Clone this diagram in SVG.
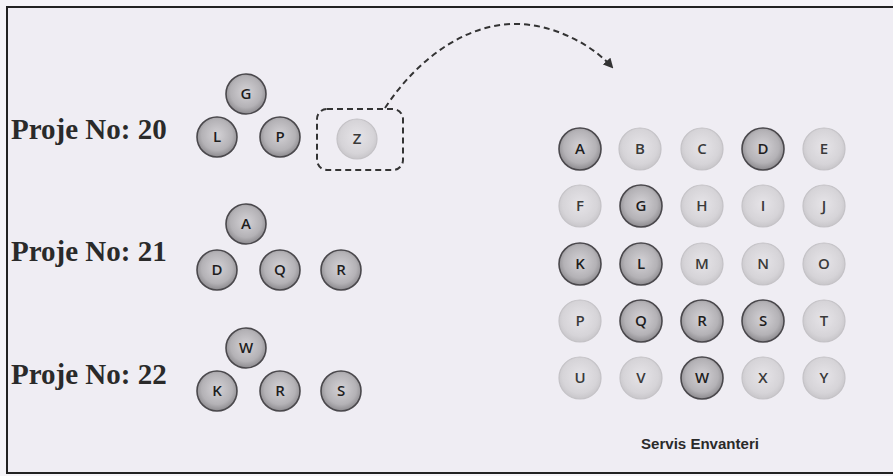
<svg xmlns="http://www.w3.org/2000/svg" width="893" height="476" viewBox="0 0 893 476">
<defs>
<radialGradient id="gDark" cx="50%" cy="45%" r="55%">
<stop offset="0" stop-color="#d4d2d6"/>
<stop offset="0.7" stop-color="#b4b2b6"/>
<stop offset="1" stop-color="#8c8a8e"/>
</radialGradient>
<radialGradient id="gLight" cx="50%" cy="45%" r="55%">
<stop offset="0" stop-color="#e6e4e8"/>
<stop offset="0.75" stop-color="#d6d4d8"/>
<stop offset="1" stop-color="#c8c6ca"/>
</radialGradient>
<marker id="arr" viewBox="0 0 10 10" refX="8" refY="5" markerWidth="5" markerHeight="5" orient="auto">
<path d="M0,0 L10,5 L0,10 z" fill="#333"/>
</marker>
</defs>
<style>
.dark circle{fill:url(#gDark);stroke:#4a484c;stroke-width:1.6}
.light circle{fill:url(#gLight);stroke:#c4c2c6;stroke-width:1.2}
.node text{font-family:"Open Sans","DejaVu Sans",sans-serif;font-size:15px;font-weight:600;text-anchor:middle;fill:#1e1e1e}
.light text{fill:#3a3a3a}
.proj{font-family:"Liberation Serif",serif;font-weight:bold;font-size:29px;fill:#2a2a2a}
</style>
<rect x="0" y="0" width="893" height="476" fill="#f5f4f8"/>
<rect x="7" y="7" width="892" height="466" fill="#efedf3" stroke="#222" stroke-width="2"/>

<g id="labels">
<text class="proj" x="11" y="139">Proje No: 20</text>
<text class="proj" x="11" y="261">Proje No: 21</text>
<text class="proj" x="11" y="384">Proje No: 22</text>
<text x="700" y="449" font-family="Liberation Sans,sans-serif" font-weight="bold" font-size="14" text-anchor="middle" fill="#2a2a2a" textLength="118" lengthAdjust="spacingAndGlyphs">Servis Envanteri</text>
</g>

<g id="p20-G" class="node dark"><circle cx="246" cy="94" r="20"/><text x="246" y="99">G</text></g>
<g id="p20-L" class="node dark"><circle cx="217" cy="137" r="20"/><text x="217" y="142">L</text></g>
<g id="p20-P" class="node dark"><circle cx="280" cy="137" r="20"/><text x="280" y="142">P</text></g>
<g id="p20-Z" class="node light">
<rect x="317" y="109" width="86" height="61" rx="10" fill="none" stroke="#333" stroke-width="2" stroke-dasharray="6,4"/>
<circle cx="357" cy="139" r="20"/><text x="357" y="144">Z</text></g>

<g id="p21-A" class="node dark"><circle cx="246" cy="224" r="20"/><text x="246" y="229">A</text></g>
<g id="p21-D" class="node dark"><circle cx="217" cy="270" r="20"/><text x="217" y="275">D</text></g>
<g id="p21-Q" class="node dark"><circle cx="280" cy="270" r="20"/><text x="280" y="275">Q</text></g>
<g id="p21-R" class="node dark"><circle cx="341" cy="270" r="20"/><text x="341" y="275">R</text></g>

<g id="p22-W" class="node dark"><circle cx="246" cy="348" r="20"/><text x="246" y="353">W</text></g>
<g id="p22-K" class="node dark"><circle cx="217" cy="391" r="20"/><text x="217" y="396">K</text></g>
<g id="p22-R" class="node dark"><circle cx="280" cy="391" r="20"/><text x="280" y="396">R</text></g>
<g id="p22-S" class="node dark"><circle cx="341" cy="391" r="20"/><text x="341" y="396">S</text></g>

<g id="inv-A" class="node dark"><circle cx="580" cy="149" r="21"/><text x="580" y="154">A</text></g>
<g id="inv-B" class="node light"><circle cx="640" cy="149" r="21"/><text x="640" y="154">B</text></g>
<g id="inv-C" class="node light"><circle cx="702" cy="149" r="21"/><text x="702" y="154">C</text></g>
<g id="inv-D" class="node dark"><circle cx="763" cy="149" r="21"/><text x="763" y="154">D</text></g>
<g id="inv-E" class="node light"><circle cx="824" cy="149" r="21"/><text x="824" y="154">E</text></g>

<g id="inv-F" class="node light"><circle cx="580" cy="206" r="21"/><text x="580" y="211">F</text></g>
<g id="inv-G" class="node dark"><circle cx="641" cy="206" r="21"/><text x="641" y="211">G</text></g>
<g id="inv-H" class="node light"><circle cx="702" cy="206" r="21"/><text x="702" y="211">H</text></g>
<g id="inv-I" class="node light"><circle cx="763" cy="206" r="21"/><text x="763" y="211">I</text></g>
<g id="inv-J" class="node light"><circle cx="824" cy="206" r="21"/><text x="824" y="211">J</text></g>

<g id="inv-K" class="node dark"><circle cx="580" cy="264" r="21"/><text x="580" y="269">K</text></g>
<g id="inv-L" class="node dark"><circle cx="641" cy="264" r="21"/><text x="641" y="269">L</text></g>
<g id="inv-M" class="node light"><circle cx="702" cy="264" r="21"/><text x="702" y="269">M</text></g>
<g id="inv-N" class="node light"><circle cx="763" cy="264" r="21"/><text x="763" y="269">N</text></g>
<g id="inv-O" class="node light"><circle cx="824" cy="264" r="21"/><text x="824" y="269">O</text></g>

<g id="inv-P" class="node light"><circle cx="580" cy="321" r="21"/><text x="580" y="326">P</text></g>
<g id="inv-Q" class="node dark"><circle cx="641" cy="321" r="21"/><text x="641" y="326">Q</text></g>
<g id="inv-R" class="node dark"><circle cx="702" cy="321" r="21"/><text x="702" y="326">R</text></g>
<g id="inv-S" class="node dark"><circle cx="763" cy="321" r="21"/><text x="763" y="326">S</text></g>
<g id="inv-T" class="node light"><circle cx="824" cy="321" r="21"/><text x="824" y="326">T</text></g>

<g id="inv-U" class="node light"><circle cx="580" cy="378" r="21"/><text x="580" y="383">U</text></g>
<g id="inv-V" class="node light"><circle cx="641" cy="378" r="21"/><text x="641" y="383">V</text></g>
<g id="inv-W" class="node dark"><circle cx="702" cy="378" r="21"/><text x="702" y="383">W</text></g>
<g id="inv-X" class="node light"><circle cx="763" cy="378" r="21"/><text x="763" y="383">X</text></g>
<g id="inv-Y" class="node light"><circle cx="824" cy="378" r="21"/><text x="824" y="383">Y</text></g>

<g id="connectors">
<path d="M385,108 C420,55 470,22 520,24 C560,26 595,48 612,67" fill="none" stroke="#333" stroke-width="2" stroke-dasharray="6,4" marker-end="url(#arr)"/>
</g>
</svg>
